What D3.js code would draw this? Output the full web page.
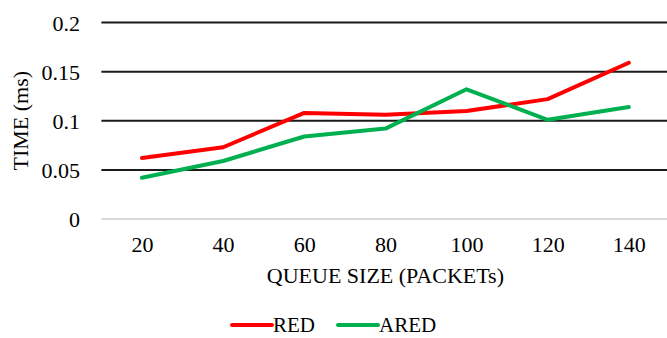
<!DOCTYPE html>
<html>
<head>
<meta charset="utf-8">
<script src="https://cdn.jsdelivr.net/npm/d3@7"></script>
<style>
  body { margin: 0; background: #fff; }
  svg text { font-family: "Times New Roman", "Liberation Serif", "DejaVu Serif", serif !important; fill: #000; }
</style>
</head>
<body>
<div id="graph"></div>
<script>
// Queue sizes on the x axis
var queueSizes = [20, 40, 60, 80, 100, 120, 140];
// Time values (ms) for each series
var redValues = [0.062, 0.073, 0.108, 0.106, 0.110, 0.122, 0.159];
var aredValues = [0.042, 0.059, 0.084, 0.092, 0.132, 0.101, 0.114];
var yTicks = [0, 0.05, 0.1, 0.15, 0.2];
var seriesNames = ["RED", "ARED"];
var seriesColors = ["#ff0000", "#00b050"];

var width = 667, height = 338;
var margin = { top: 22.5, left: 101.4, right: -2.4, bottom: 119 };
var serif = "'Times New Roman', 'Liberation Serif', 'DejaVu Serif', serif";

var svg = d3.select("#graph").append("svg")
    .attr("width", width)
    .attr("height", height)
    .attr("font-family", serif);

// Scales
var x = d3.scalePoint()
    .domain(queueSizes)
    .range([margin.left, width - margin.right])
    .padding(0.5);

var y = d3.scaleLinear()
    .domain([0, 0.2])
    .range([height - margin.bottom, margin.top]);

// Gridlines
svg.append("g")
    .selectAll("line")
    .data(yTicks)
    .enter().append("line")
    .attr("x1", margin.left)
    .attr("x2", width)
    .attr("y1", function (d) { return y(d); })
    .attr("y2", function (d) { return y(d); })
    .attr("stroke", function (d) { return d === 0 ? "#d9d9d9" : "#1a1a1a"; })
    .attr("stroke-width", 2);

// Y axis labels
var yAxis = svg.append("g")
    .attr("transform", "translate(" + 88 + ",0)")
    .call(d3.axisLeft(y).tickValues(yTicks).tickSize(0).tickPadding(8)
        .tickFormat(function (d) { return d3.format("")(+d.toFixed(2)); }));
yAxis.attr("font-family", serif);
yAxis.select(".domain").remove();
yAxis.selectAll("text")
    .style("font-size", "22px")
    .attr("dy", "0.35em");

// X axis labels
var xAxis = svg.append("g")
    .attr("transform", "translate(0," + (height - margin.bottom) + ")")
    .call(d3.axisBottom(x).tickSize(0).tickPadding(0));
xAxis.attr("font-family", serif);
xAxis.select(".domain").remove();
xAxis.selectAll("text")
    .attr("y", 33)
    .attr("dy", 0)
    .style("font-size", "22px");

// Lines
var line = d3.line()
    .x(function (d, i) { return x(queueSizes[i]); })
    .y(function (d) { return y(d); });

[redValues, aredValues].forEach(function (vals, k) {
    svg.append("path")
        .datum(vals)
        .attr("fill", "none")
        .attr("stroke", seriesColors[k])
        .attr("stroke-width", 4)
        .attr("stroke-linecap", "round")
        .attr("stroke-linejoin", "round")
        .attr("d", line);
});

// Axis titles
svg.append("text")
    .attr("transform", "translate(28," + ((y(0) + y(0.2)) / 2) + ") rotate(-90)")
    .attr("text-anchor", "middle")
    .style("font-size", "22px")
    .text("TIME (ms)");

svg.append("text")
    .attr("x", (margin.left + width - margin.right) / 2)
    .attr("y", 283)
    .attr("text-anchor", "middle")
    .style("font-size", "22px")
    .text("QUEUE SIZE (PACKETs)");

// Legend
var legendX = [232, 338];
var legend = svg.append("g").selectAll("g")
    .data(seriesNames)
    .enter().append("g")
    .attr("transform", function (d, i) { return "translate(" + legendX[i] + ",325)"; });

legend.append("line")
    .attr("x1", 0).attr("x2", 40)
    .attr("stroke", function (d, i) { return seriesColors[i]; })
    .attr("stroke-width", 4)
    .attr("stroke-linecap", "round");

legend.append("text")
    .attr("x", 41)
    .attr("y", 7)
    .style("font-size", "21px")
    .text(function (d) { return d; });
</script>
</body>
</html>
